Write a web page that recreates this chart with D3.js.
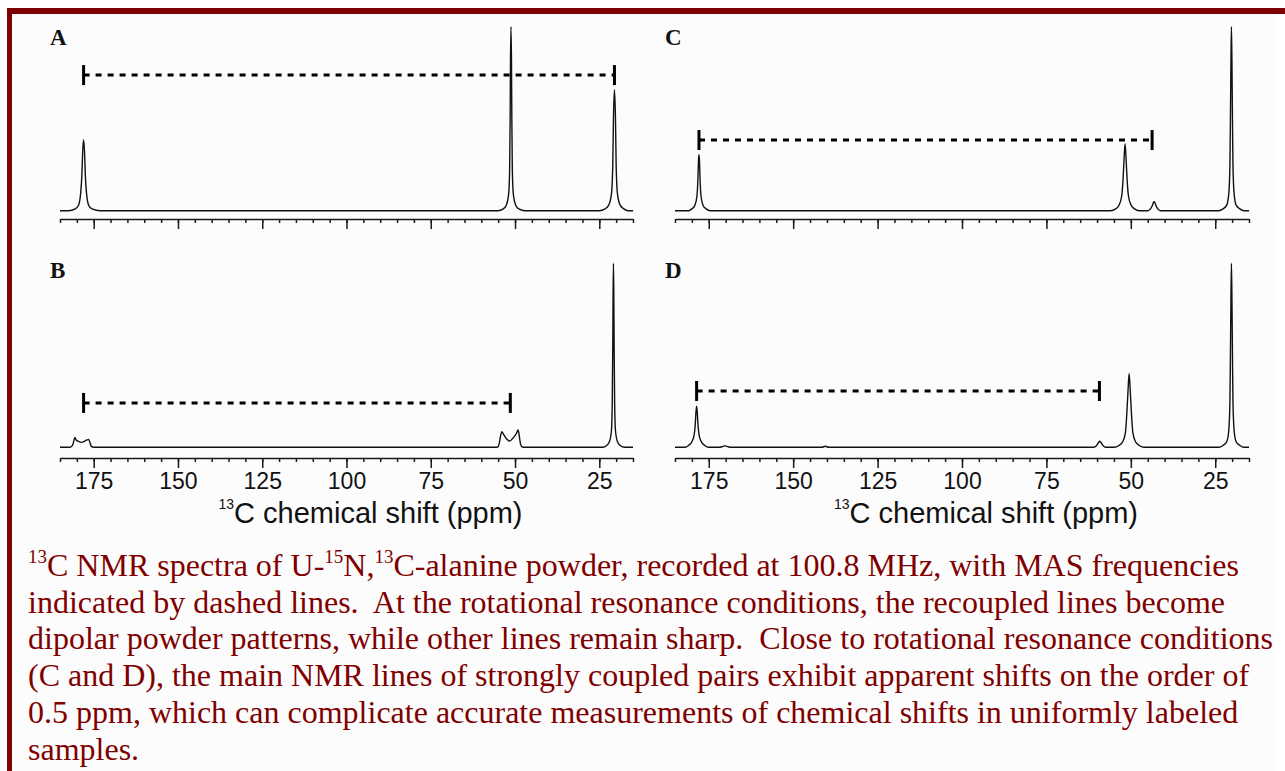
<!DOCTYPE html>
<html>
<head>
<meta charset="utf-8">
<script src="https://cdn.jsdelivr.net/npm/d3@7"></script>
<style>
    body { margin: 0; background: #fff; }
    svg { display: block; }
    .axis path, .axis line { stroke: #1a1a1a; stroke-width: 1.5; }
    .axis text { font-family: "Liberation Sans", Arial, sans-serif; font-size: 23px; fill: #111; }
    .spectrum { fill: none; stroke: #111; stroke-width: 1.4; stroke-linejoin: round; }
    .mas { stroke: #000; stroke-width: 3; }
    .letter { font-family: "Liberation Serif", "Times New Roman", serif; font-weight: bold; font-size: 23px; fill: #111; }
    .title { font-family: "Liberation Sans", Arial, sans-serif; fill: #111; }
    .caption { font-family: "Liberation Serif", "Times New Roman", serif; font-size: 32px; fill: #800000; white-space: pre; }
</style>
</head>
<body>
<svg id="chart" width="1285" height="771"></svg>
<script>

// chemical shift axis in ppm, drawn right to left like every NMR plot
const shiftDomain = [185, 15];
const minorTicks = [185, 180, 175, 170, 165, 160, 155, 150, 145, 140, 135, 130, 125, 120, 115, 110,
    105, 100, 95, 90, 85, 80, 75, 70, 65, 60, 55, 50, 45, 40, 35, 30, 25, 20, 15];
const majorTicks = [175, 150, 125, 100, 75, 50, 25];

// spectra as [ppm, intensity] pairs (1 = tallest line in the panel)
const spectrumA = [
    [185, 0], [182.5, 0], [180.5, 0.01], [179.5, 0.03], [178.9, 0.09], [178.5, 0.2], [178.3, 0.31],
    [178.0, 0.386], [177.7, 0.31], [177.5, 0.2], [177.1, 0.09], [176.5, 0.03], [175.5, 0.01], [173, 0],
    [55, 0], [53.5, 0.01], [52.6, 0.03], [51.9, 0.09], [51.6, 0.22], [51.45, 0.5], [51.35, 0.8],
    [51.2, 1.0], [51.05, 0.8], [50.95, 0.5], [50.8, 0.22], [50.5, 0.09], [49.8, 0.03], [48.9, 0.01], [47, 0],
    [25, 0], [23.3, 0.01], [22.2, 0.03], [21.4, 0.09], [21.0, 0.25], [20.8, 0.5], [20.5, 0.658],
    [20.2, 0.5], [20.0, 0.25], [19.6, 0.09], [18.8, 0.03], [17.7, 0.01], [16.5, 0], [15, 0]
];
const spectrumB = [
    [185, 0], [182, 0], [181.3, 0.01], [180.9, 0.035], [180.6, 0.054], [180.2, 0.04], [179.5, 0.032],
    [178.6, 0.027], [177.8, 0.032], [177.0, 0.04], [176.5, 0.043], [176.1, 0.025], [175.7, 0.005], [175, 0],
    [56, 0], [55, 0.003], [54.6, 0.03], [54.2, 0.07], [53.9, 0.085], [53.4, 0.07], [52.5, 0.045],
    [51.6, 0.034], [50.6, 0.05], [49.6, 0.075], [49.1, 0.094], [48.8, 0.07], [48.4, 0.02], [48.0, 0.003], [47, 0],
    [24, 0], [22.8, 0.01], [22.0, 0.03], [21.4, 0.09], [21.15, 0.25], [21.0, 0.55], [20.9, 0.85],
    [20.8, 1.0], [20.7, 0.85], [20.6, 0.55], [20.45, 0.25], [20.2, 0.09], [19.6, 0.03], [18.8, 0.01], [17.5, 0], [15, 0]
];
const spectrumC = [
    [185, 0], [181, 0], [180, 0.01], [179.1, 0.03], [178.5, 0.08], [178.2, 0.18], [178.05, 0.27],
    [177.9, 0.304], [177.75, 0.27], [177.6, 0.18], [177.3, 0.08], [176.7, 0.03], [175.8, 0.01], [174.5, 0],
    [56, 0], [54.5, 0.01], [53.5, 0.03], [52.7, 0.08], [52.3, 0.17], [52.0, 0.28], [51.7, 0.364],
    [51.4, 0.28], [51.1, 0.17], [50.7, 0.08], [49.9, 0.03], [48.9, 0.01], [47.5, 0],
    [45, 0], [44.2, 0.01], [43.6, 0.03], [43.3, 0.045], [43.1, 0.049], [42.9, 0.045], [42.6, 0.03], [42.0, 0.01], [41.2, 0],
    [24, 0], [22.7, 0.01], [21.6, 0.03], [21.0, 0.09], [20.65, 0.25], [20.5, 0.5], [20.35, 0.8],
    [20.2, 1.0], [20.05, 0.8], [19.9, 0.5], [19.75, 0.25], [19.4, 0.09], [18.8, 0.03], [17.7, 0.01], [16.5, 0], [15, 0]
];
const spectrumD = [
    [185, 0], [182, 0], [181, 0.01], [180, 0.03], [179.3, 0.07], [178.95, 0.14], [178.8, 0.19],
    [178.6, 0.223], [178.4, 0.19], [178.25, 0.14], [177.9, 0.07], [177.2, 0.03], [176.2, 0.01], [175, 0],
    [172, 0], [170.8, 0.005], [170.2, 0.008], [169.6, 0.005], [168.5, 0],
    [141.5, 0], [140.5, 0.006], [139.5, 0],
    [61, 0], [60.2, 0.008], [59.6, 0.025], [59.2, 0.033], [58.8, 0.025], [58.2, 0.008], [57.4, 0],
    [55, 0], [53.5, 0.01], [52.4, 0.03], [51.6, 0.08], [51.2, 0.18], [50.85, 0.3], [50.5, 0.402],
    [50.15, 0.3], [49.8, 0.18], [49.4, 0.08], [48.6, 0.03], [47.5, 0.01], [46, 0],
    [24, 0], [22.7, 0.01], [21.6, 0.03], [21.0, 0.09], [20.65, 0.25], [20.5, 0.5], [20.35, 0.8],
    [20.2, 1.0], [20.05, 0.8], [19.9, 0.5], [19.75, 0.25], [19.4, 0.09], [18.8, 0.03], [17.7, 0.01], [16.5, 0], [15, 0]
];

// MAS frequency markers: [start ppm, end ppm, height]
const masA = [178.0, 20.5, 0.737];
const masB = [178.0, 51.4, 0.241];
const masC = [177.9, 43.7, 0.384];
const masD = [178.6, 59.3, 0.306];

const panelLetters = ['A', 'B', 'C', 'D'];
const axisTitle = ['13', 'C chemical shift (ppm)'];

// caption lines, superscripts marked as [text, true]
const captionLines = [
    [['13', true], ['C NMR spectra of U-'], ['15', true], ['N,'], ['13', true], ['C-alanine powder, recorded at 100.8 MHz, with MAS frequencies']],
    [['indicated by dashed lines.  At the rotational resonance conditions, the recoupled lines become']],
    [['dipolar powder patterns, while other lines remain sharp.  Close to rotational resonance conditions']],
    [['(C and D), the main NMR lines of strongly coupled pairs exhibit apparent shifts on the order of']],
    [['0.5 ppm, which can complicate accurate measurements of chemical shifts in uniformly labeled']],
    [['samples.']]
];

const svg = d3.select('#chart');

// page frame: pale sheet with the dark red rule along top and left
svg.append('rect')
    .attr('x', 12).attr('y', 14)
    .attr('width', 1263).attr('height', 757)
    .attr('fill', '#fcfcfc');
svg.append('rect')
    .attr('x', 7).attr('y', 8)
    .attr('width', 1278).attr('height', 6)
    .attr('fill', '#7f0000');
svg.append('rect')
    .attr('x', 7).attr('y', 8)
    .attr('width', 5).attr('height', 763)
    .attr('fill', '#7f0000');

/** Draws one spectrum panel: trace, MAS marker, ppm axis and (optionally) labels. */
function createPanel( opts ) {

    let g = svg.append('g');

    let x = d3.scaleLinear()
        .domain( shiftDomain )
        .range( [opts.left, opts.right] );

    // 184px is the height of the tallest line in every panel
    let y = d3.scaleLinear()
        .domain( [0, 1] )
        .range( [opts.base, opts.base - 184] );

    let line = d3.line()
        .x( d => x(d[0]) )
        .y( d => y(d[1]) )
        .curve( d3.curveMonotoneX );

    g.append('path')
        .datum( opts.spectrum )
        .attr('class', 'spectrum')
        .attr('d', line);

    // dashed MAS marker with end bars
    let m = opts.mas;
    let my = y(m[2]);
    g.append('line')
        .attr('class', 'mas')
        .attr('x1', x(m[0])).attr('x2', x(m[1]))
        .attr('y1', my).attr('y2', my)
        .attr('stroke-dasharray', '6,6');
    g.selectAll('.bar')
        .data( [m[0], m[1]] )
        .enter().append('line')
            .attr('class', 'mas bar')
            .attr('x1', d => x(d)).attr('x2', d => x(d))
            .attr('y1', my - 10).attr('y2', my + 10);

    // minor ticks every 5 ppm, keeps the domain line
    g.append('g')
        .attr('class', 'axis')
        .attr('transform', `translate(0,${opts.axis})`)
        .call( d3.axisBottom(x)
            .tickValues( minorTicks )
            .tickSize( 4 )
            .tickSizeOuter( 0 )
            .tickFormat( '' ) );

    // major ticks every 25 ppm
    let major = g.append('g')
        .attr('class', 'axis')
        .attr('transform', `translate(0,${opts.axis})`)
        .call( d3.axisBottom(x)
            .tickValues( majorTicks )
            .tickSize( 10 )
            .tickPadding( 5 )
            .tickFormat( opts.labels ? d3.format('d') : '' ) );
    major.select('.domain').remove();

    if ( opts.labels ) {
        let t = g.append('text')
            .attr('class', 'title')
            .attr('text-anchor', 'middle')
            .attr('x', (opts.left + opts.right) / 2 + 24)
            .attr('y', opts.axis + 65);
        t.append('tspan')
            .attr('font-size', 14)
            .attr('dy', -14)
            .text( axisTitle[0] );
        t.append('tspan')
            .attr('font-size', 29)
            .attr('dy', 14)
            .text( axisTitle[1] );
    }

    g.append('text')
        .attr('class', 'letter')
        .attr('x', opts.left - 10)
        .attr('y', opts.letterY)
        .text( opts.letter );
}

createPanel({ spectrum: spectrumA, mas: masA, letter: panelLetters[0], left: 60, right: 633, base: 210.7, axis: 219, letterY: 45, labels: false });
createPanel({ spectrum: spectrumB, mas: masB, letter: panelLetters[1], left: 60, right: 633, base: 447.3, axis: 458, letterY: 278, labels: true });
createPanel({ spectrum: spectrumC, mas: masC, letter: panelLetters[2], left: 675, right: 1249, base: 210.7, axis: 219, letterY: 45, labels: false });
createPanel({ spectrum: spectrumD, mas: masD, letter: panelLetters[3], left: 675, right: 1249, base: 447.3, axis: 458, letterY: 278, labels: true });

// figure caption
captionLines.forEach( function( parts, i ) {
    let t = svg.append('text')
        .attr('class', 'caption')
        .attr('x', 28)
        .attr('y', 576 + i * 36.7);
    let raised = false;
    parts.forEach( function( p ) {
        let s = t.append('tspan').text( p[0] );
        if ( p[1] ) {
            s.attr('font-size', 19).attr('dy', raised ? 0 : -13);
            raised = true;
        } else {
            s.attr('dy', raised ? 13 : 0);
            raised = false;
        }
    } );
} );

</script>
</body>
</html>
